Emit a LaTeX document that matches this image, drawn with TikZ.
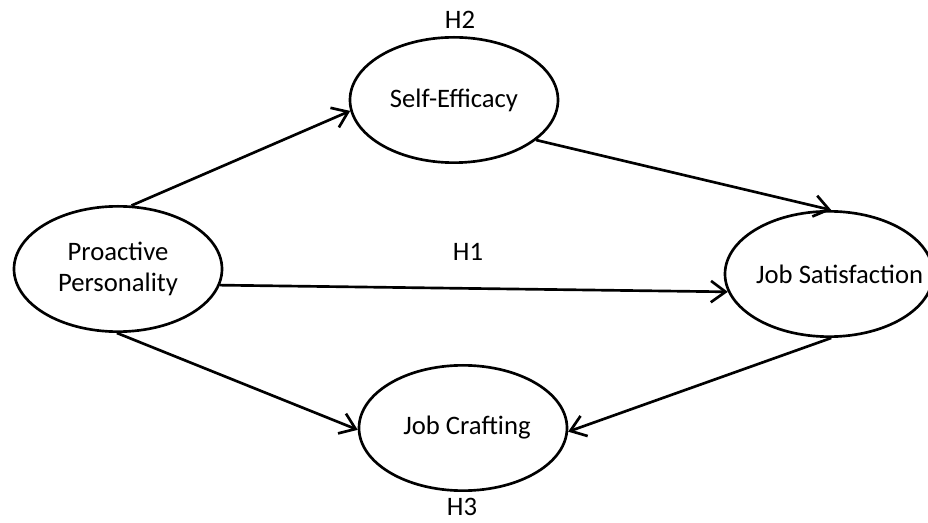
\documentclass[tikz,border=0pt]{standalone}
\usepackage{fontspec}
\setmainfont{Carlito}
\usetikzlibrary{shapes.geometric,arrows.meta}

\tikzset{
  construct/.style={draw=black,line width=2pt,shape=ellipse,inner sep=0pt,
    minimum width=156pt,minimum height=94pt,align=center},
  path/.style={draw=black,line width=2pt,-{Straight Barb[length=11pt,width=16pt,line width=2pt]}},
  hyp/.style={inner sep=0pt,font=\fontsize{20}{24}\selectfont}
}

\begin{document}
\begin{tikzpicture}[x=0.75pt,y=-0.75pt,font=\fontsize{20}{23}\selectfont]
                    \useasboundingbox (0,0) rectangle (928,523);
                    \node [construct] (pp) at (118,269)
                    {\makebox[0pt]{Proactive}\\\makebox[0pt]{Personality}};
                    \node [construct] (se) at (454,100)
                    {\makebox[0pt]{Self-Efficacy}};
                    \node [construct] (js) at (829,274)
                    {\makebox[0pt]{\hspace{16pt}Job Satisfaction}};
                    \node [construct] (jc) at (463,428)
                    {\makebox[0pt]{\hspace{6pt}Job Crafting}};
                    \draw [path] (pp.78) -- (se.186);
                    \draw [path] (se.-26) -- (js.88);
                    \draw [path] (pp.-9) -- (js.190);
                    \draw [path] (pp.-91) -- (jc.181);
                    \draw [path] (js.-88) -- (jc.-2);
                    \node [hyp] (h2) at (460,20) {H2};
                    \node [hyp] (h1) at (468,252) {H1};
                    \node [hyp] (h3) at (462,507) {H3};
                \end{tikzpicture}
\end{document}
